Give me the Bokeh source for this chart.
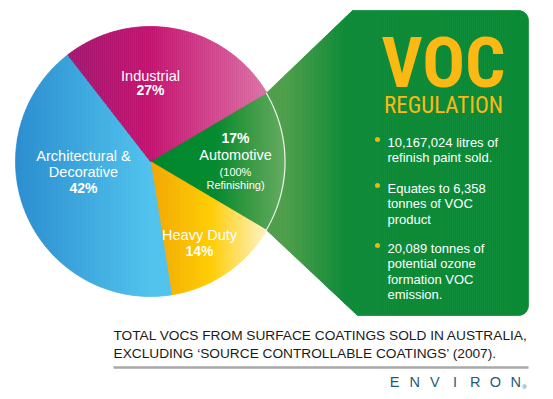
import numpy as np
from bokeh.plotting import figure
from bokeh.models import Range1d, ColumnDataSource
from bokeh.core.properties import value
from bokeh.embed import file_html
from bokeh.resources import INLINE

# ---------------- data ----------------
categories = ["Automotive", "Heavy Duty", "Architectural & Decorative", "Industrial"]
shares = [17, 14, 42, 27]
pct_labels = ["17%", "14%", "42%", "27%"]
name_lines = [["Automotive"], ["Heavy Duty"], ["Architectural &", "Decorative"], ["Industrial"]]
automotive_note = ["(100%", "Refinishing)"]
callout_title = ["VOC", "REGULATION"]
bullets = [
    ["10,167,024 litres of", "refinish paint sold."],
    ["Equates to 6,358", "tonnes of VOC", "product"],
    ["20,089 tonnes of", "potential ozone", "formation VOC", "emission."],
]
title_lines = ["TOTAL VOCS FROM SURFACE COATINGS SOLD IN AUSTRALIA,",
               "EXCLUDING \u2018SOURCE CONTROLLABLE COATINGS\u2019 (2007)."]
brand = "ENVIRON"

# ---------------- styles / layout ----------------
FONT = "Liberation Sans"
NARROW = "Roboto Condensed"
BASE_K = 0.3  # compensation for the renderer's baseline placement

CX, CY, R = 150.0, 161.0, 135.0
gradients = {
    "Automotive": [(150, "#00872f"), (215, "#04892f"), (250, "#3a9a44"), (286, "#68ac64")],
    "Heavy Duty": [(150, "#f2a600"), (210, "#ffcc00"), (262, "#fff0b4")],
    "Architectural & Decorative": [(15, "#2a8cce"), (150, "#50c2ec")],
    "Industrial": [(50, "#9a1870"), (150, "#c2136f"), (265, "#db70a4")],
}
funnel_grad = [(150, "#4fa04b"), (286, "#4c9e49"), (345, "#0c8a36"), (540, "#098934")]
label_pos = {
    "Automotive": (235, 142, 17),
    "Heavy Duty": (199, 239, 16),
    "Architectural & Decorative": (83, 160, 16),
    "Industrial": (150, 80, 14),
}

W, H = 553, 399
p = figure(width=W, height=H, x_range=Range1d(0, W), y_range=Range1d(H, 0),
           output_backend="svg", toolbar_location=None, min_border=0)
p.axis.visible = False
p.grid.visible = False
p.outline_line_color = None
p.background_fill_color = "white"
p.border_fill_color = "white"


def hex2rgb(h):
    h = h.lstrip("#")
    return np.array([int(h[i:i + 2], 16) for i in (0, 2, 4)], dtype=float)


def interp(stops, x):
    xs = [s[0] for s in stops]
    cols = [hex2rgb(s[1]) for s in stops]
    if x <= xs[0]:
        c = cols[0]
    elif x >= xs[-1]:
        c = cols[-1]
    else:
        for i in range(len(xs) - 1):
            if xs[i] <= x <= xs[i + 1]:
                t = (x - xs[i]) / (xs[i + 1] - xs[i])
                c = cols[i] * (1 - t) + cols[i + 1] * t
                break
    return "#%02x%02x%02x" % tuple(int(round(v)) for v in c)


def clip_half(pts, keep, xb):
    out = []
    n = len(pts)
    for i in range(n):
        P, Q = pts[i], pts[(i + 1) % n]
        pin, qin = keep(P[0]), keep(Q[0])
        if pin:
            out.append(P)
        if pin != qin:
            t = (xb - P[0]) / (Q[0] - P[0])
            out.append((xb, P[1] + t * (Q[1] - P[1])))
    return out


def gradient_fill(poly, stops, step=2.0):
    xs_all = [q[0] for q in poly]
    x0, x1 = min(xs_all), max(xs_all)
    xs, ys, cs = [], [], []
    x = x0
    while x < x1:
        xa, xb = x, min(x + step, x1)
        piece = clip_half(poly, lambda v: v >= xa, xa)
        if piece:
            piece = clip_half(piece, lambda v: v <= xb, xb)
        if len(piece) >= 3:
            xs.append([q[0] for q in piece])
            ys.append([q[1] for q in piece])
            cs.append(interp(stops, (xa + xb) / 2))
        x += step
    src = ColumnDataSource(dict(xs=xs, ys=ys, c=cs))
    p.patches("xs", "ys", source=src, fill_color="c", line_color="c", line_width=0.7)


def pt(a_deg, r=R):
    a = np.radians(a_deg)
    return (CX + r * np.cos(a), CY - r * np.sin(a))


def wedge_poly(a0, a1):
    n = max(int(abs(a1 - a0)), 2) + 1
    arc = [pt(a) for a in np.linspace(a0, a1, n)]
    return [(CX, CY)] + arc


# slice angles, clockwise, with Automotive centred towards the callout
total = float(sum(shares))
spans = [360.0 * s / total for s in shares]
start = spans[0] / 2.0
bounds = []
a = start
for sp in spans:
    bounds.append((a, a - sp))
    a -= sp

# green callout: funnel + rounded box
up = pt(bounds[0][0])
lo = pt(bounds[0][1])
bx0_top, bx0_bot, bx1, by0, by1, rc = 352, 357, 528, 10, 315, 10
corner_tr = [(bx1 - rc + rc * np.cos(t), by0 + rc - rc * np.sin(t)) for t in np.linspace(np.pi / 2, 0, 8)]
corner_br = [(bx1 - rc + rc * np.cos(t), by1 - rc - rc * np.sin(t)) for t in np.linspace(0, -np.pi / 2, 8)]
funnel = [(CX, CY), up, (bx0_top, by0)] + corner_tr + corner_br + [(bx0_bot, by1), lo]
gradient_fill(funnel, funnel_grad)

# pie slices
for cat, (a0, a1) in zip(categories, bounds):
    gradient_fill(wedge_poly(a0, a1), gradients[cat])

# white rim over the automotive part
arc_pts = [pt(v, R - 0.5) for v in np.linspace(bounds[0][0], bounds[0][1], 60)]
p.line([q[0] for q in arc_pts], [q[1] for q in arc_pts], line_color="white", line_width=1.2, line_alpha=0.85)


def txt(x, y, s, size, color, bold=False, align="center", font=FONT):
    p.text(x=[x], y=[y - BASE_K * size], text=[s], text_font=value(font), text_font_size=f"{size}px",
           text_color=color, text_align=align, text_baseline="alphabetic",
           text_font_style="bold" if bold else "normal")


# pie labels
for cat, pct, names in zip(categories, pct_labels, name_lines):
    lx, ly, step = label_pos[cat]
    if cat == "Automotive":
        txt(lx, ly, pct, 14, "white", bold=True)
        txt(lx, ly + step, names[0], 14.5, "white")
        txt(lx, ly + step + 16, automotive_note[0], 11, "white")
        txt(lx, ly + step + 29, automotive_note[1], 11, "white")
    else:
        yy = ly
        for nm in names:
            txt(lx, yy, nm, 14.5, "white")
            yy += step
        txt(lx, yy, pct, 14, "white", bold=True)

# callout texts
txt(443, 83, callout_title[0], 71, "#fdb913", bold=True, font=NARROW)
txt(443, 112, callout_title[1], 23, "#fdb913", font=NARROW)
bullet_tops = [146, 192, 252]
for top, lines in zip(bullet_tops, bullets):
    p.scatter([377], [top - 7], size=5, color="#f7b500", line_color=None)
    for i, ln in enumerate(lines):
        txt(387, top + i * 15.3, ln, 13, "white", align="left")

# caption and brand
txt(113, 339, title_lines[0], 13.7, "#1a1a1a", align="left")
txt(113, 357, title_lines[1], 13.7, "#1a1a1a", align="left")
p.line([113, 528], [367, 367], line_color="#a9a9a9", line_width=2.5)
for i, ch in enumerate(brand):
    txt(394 + 20.2 * i, 386, ch, 14.5, "#1d5b78")
txt(524, 388, "\u00ae", 6, "#1d5b78")

open("out.html", "w").write(file_html(p, INLINE))
